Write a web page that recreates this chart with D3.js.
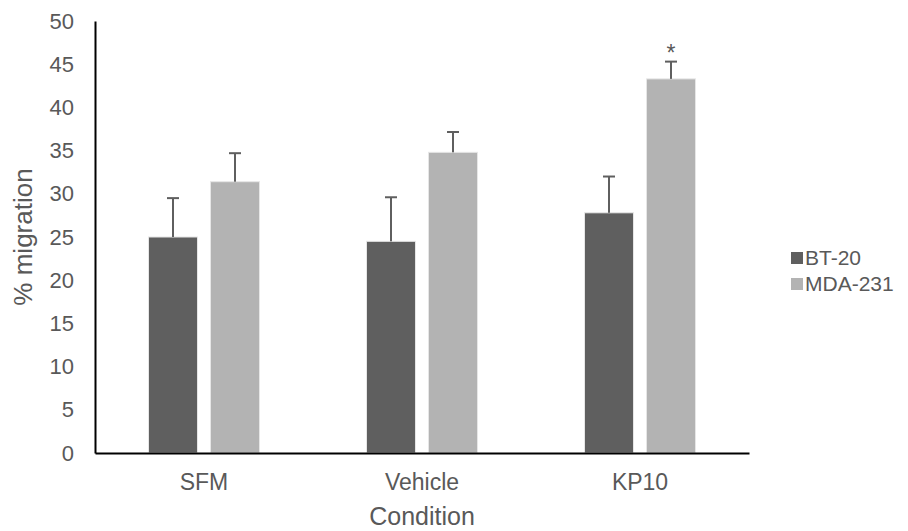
<!DOCTYPE html>
<html>
<head>
<meta charset="utf-8">
<script src="https://cdnjs.cloudflare.com/ajax/libs/d3/7.8.5/d3.min.js"></script>
<style>
  body { margin: 0; background: #fff; }
  text { font-family: "Liberation Sans", Arial, sans-serif; fill: #595959; }
</style>
</head>
<body>
<div id="chart"></div>
<script>
// Chart data
const conditions = ["SFM", "Vehicle", "KP10"];
const seriesNames = ["BT-20", "MDA-231"];
const bt20Values = [25.0, 24.5, 27.8];
const bt20Errors = [4.5, 5.1, 4.2];
const mda231Values = [31.4, 34.8, 43.3];
const mda231Errors = [3.3, 2.35, 2.0];
const yTicks = [0, 5, 10, 15, 20, 25, 30, 35, 40, 45, 50];
const seriesColors = ["#5f5f5f", "#b3b3b3"];

// Table for drawing
const rows = conditions.map((c, i) => ({
  condition: c,
  values: [
    { series: seriesNames[0], value: bt20Values[i], err: bt20Errors[i], star: false },
    { series: seriesNames[1], value: mda231Values[i], err: mda231Errors[i], star: c === "KP10" }
  ]
}));

const W = 908, H = 531;
const margin = { top: 21, right: 159, bottom: 78, left: 95 };
const width = W - margin.left - margin.right;
const height = H - margin.top - margin.bottom;

const svg = d3.select("#chart")
  .append("svg")
  .attr("width", W)
  .attr("height", H);

const g = svg.append("g")
  .attr("transform", "translate(" + margin.left + "," + margin.top + ")");

// Scales
const x0 = d3.scaleBand()
  .domain(conditions)
  .range([0, width])
  .paddingInner(0)
  .paddingOuter(0);

const x1 = d3.scaleBand()
  .domain(seriesNames)
  .range([53.5, x0.bandwidth() - 53.5])
  .paddingInner(0.21);

const y = d3.scaleLinear()
  .domain([0, 50])
  .range([height, 0]);

const color = d3.scaleOrdinal().domain(seriesNames).range(seriesColors);

// Bars
const groups = g.selectAll(".group")
  .data(rows)
  .enter()
  .append("g")
  .attr("class", "group")
  .attr("transform", (d) => "translate(" + x0(d.condition) + ",0)");

groups.selectAll("rect")
  .data((d) => d.values)
  .enter()
  .append("rect")
  .attr("x", (d) => x1(d.series))
  .attr("y", (d) => y(d.value))
  .attr("width", x1.bandwidth())
  .attr("height", (d) => height - y(d.value))
  .attr("fill", (d) => color(d.series))
  .attr("stroke", "#e6e6e6")
  .attr("stroke-width", 1);

// Error bars (upper only)
const err = groups.selectAll(".err")
  .data((d) => d.values)
  .enter()
  .append("g")
  .attr("class", "err")
  .attr("stroke", "#5f5f5f")
  .attr("stroke-width", 2);

err.append("line")
  .attr("x1", (d) => x1(d.series) + x1.bandwidth() / 2)
  .attr("x2", (d) => x1(d.series) + x1.bandwidth() / 2)
  .attr("y1", (d) => y(d.value))
  .attr("y2", (d) => y(d.value + d.err));

err.append("line")
  .attr("x1", (d) => x1(d.series) + x1.bandwidth() / 2 - 6)
  .attr("x2", (d) => x1(d.series) + x1.bandwidth() / 2 + 6)
  .attr("y1", (d) => y(d.value + d.err))
  .attr("y2", (d) => y(d.value + d.err));

// Significance marker
groups.selectAll(".star")
  .data((d) => d.values.filter((v) => v.star))
  .enter()
  .append("text")
  .attr("class", "star")
  .attr("x", (d) => x1(d.series) + x1.bandwidth() / 2)
  .attr("y", (d) => y(d.value + d.err) - 1)
  .attr("text-anchor", "middle")
  .style("font-size", "23px")
  .text("*");

// Axes
const yAxis = d3.axisLeft(y).tickValues(yTicks).tickSize(0).tickPadding(21);
const yg = g.append("g").call(yAxis);
yg.select(".domain").attr("stroke", "#000").attr("stroke-width", 2);
yg.selectAll("text").style("font-size", "22px").attr("fill", "#595959");

const xAxis = d3.axisBottom(x0).tickSize(0).tickPadding(21);
const xg = g.append("g")
  .attr("transform", "translate(0," + height + ")")
  .call(xAxis);
xg.select(".domain").attr("stroke", "#000").attr("stroke-width", 2);
xg.selectAll("text").style("font-size", "23px").attr("fill", "#595959");

// Axis titles
svg.append("text")
  .attr("transform", "translate(32," + (margin.top + height / 2) + ") rotate(-90)")
  .attr("text-anchor", "middle")
  .style("font-size", "26px")
  .text("% migration");

svg.append("text")
  .attr("x", margin.left + width / 2)
  .attr("y", 525)
  .attr("text-anchor", "middle")
  .style("font-size", "25px")
  .text("Condition");

// Legend
const legend = svg.append("g")
  .attr("transform", "translate(791,252)");

const item = legend.selectAll(".item")
  .data(seriesNames)
  .enter()
  .append("g")
  .attr("class", "item")
  .attr("transform", (d, i) => "translate(0," + i * 26 + ")");

item.append("rect")
  .attr("width", 12)
  .attr("height", 12)
  .attr("fill", (d) => color(d));

item.append("text")
  .attr("x", 14)
  .attr("y", 6)
  .attr("dy", "0.35em")
  .style("font-size", "21px")
  .text((d) => d);
</script>
</body>
</html>
